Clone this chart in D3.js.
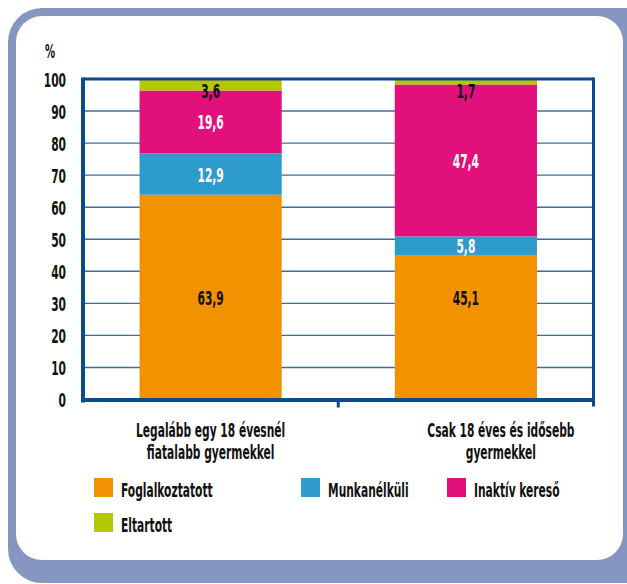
<!DOCTYPE html>
<html>
<head>
<meta charset="utf-8">
<script src="https://cdn.jsdelivr.net/npm/d3@7"></script>
<style>
  html, body { margin: 0; padding: 0; background: #ffffff; }
  svg { display: block; }
  text { font-family: "DejaVu Sans Condensed", "DejaVu Sans", sans-serif; font-weight: bold; fill: #111; }
</style>
</head>
<body>
<svg id="chart" width="627" height="584"></svg>
<script>
// Household groups (two lines per category label)
const categoryLines = [
  ["Legalább egy 18 évesnél", "fiatalabb gyermekkel"],
  ["Csak 18 éves és idősebb", "gyermekkel"]
];
const categories = categoryLines.map(l => l.join(" "));

// Series, in stacking order (bottom to top), percentages
const seriesNames = ["Foglalkoztatott", "Munkanélküli", "Inaktív kereső", "Eltartott"];
const foglalkoztatott = [63.9, 45.1];
const munkanelkuli   = [12.9, 5.8];
const inaktivKereso  = [19.6, 47.4];
const eltartott      = [3.6, 1.7];

const yTicks = [0, 10, 20, 30, 40, 50, 60, 70, 80, 90, 100];

// ---- styling / layout ----
const colors = ["#f39200", "#2e9bcd", "#e2107b", "#b4c800"];
const labelColors = ["#111", "#fff", "#fff", "#111"];
const navy = "#0d4a8c";
const gridColor = "#3d6ca3";
const sx = 0.66;  // horizontal squeeze for the condensed lettering
const sy = 1.12;
const fs = 18;

const svg = d3.select("#chart");

// Frame: blue-grey backing with white rounded panel
svg.append("rect").attr("x", 8).attr("y", 8).attr("width", 660).attr("height", 575)
  .attr("rx", 34).attr("fill", "#8596c0");
svg.append("rect").attr("x", 16).attr("y", 16).attr("width", 607).attr("height", 544)
  .attr("rx", 26).attr("fill", "#ffffff");

const plot = { left: 83, right: 593.5, top: 79, bottom: 399.5 };

const x = d3.scaleBand()
  .domain(categories)
  .range([plot.left, plot.right])
  .paddingInner(0.443)
  .paddingOuter(0.2215);

const y = d3.scaleLinear().domain([0, 100]).range([plot.bottom, plot.top]);

const fmt = d3.formatLocale({ decimal: ",", thousands: " ", grouping: [3], currency: ["", ""] }).format(".1f");

function place(sel, px, py) {
  return sel.attr("transform", `translate(${px},${py}) scale(${sx},${sy})`);
}

// Gridlines
svg.append("g").selectAll("line")
  .data(yTicks.filter(t => t > 0 && t < 100))
  .join("line")
  .attr("x1", plot.left).attr("x2", plot.right)
  .attr("y1", d => y(d)).attr("y2", d => y(d))
  .attr("stroke", gridColor).attr("stroke-width", 1.4);

// Stacked bars
const table = categories.map((c, i) => ({
  category: c,
  [seriesNames[0]]: foglalkoztatott[i],
  [seriesNames[1]]: munkanelkuli[i],
  [seriesNames[2]]: inaktivKereso[i],
  [seriesNames[3]]: eltartott[i]
}));
const stacked = d3.stack().keys(seriesNames)(table);

const layers = svg.append("g").selectAll("g")
  .data(stacked)
  .join("g")
  .attr("fill", (d, i) => colors[i]);

layers.selectAll("rect")
  .data(d => d)
  .join("rect")
  .attr("x", d => x(d.data.category))
  .attr("width", x.bandwidth())
  .attr("y", d => y(d[1]))
  .attr("height", d => y(d[0]) - y(d[1]));

// Plot frame: heavy left and bottom axes, lighter top and right edges
const frame = svg.append("g").attr("stroke", navy).attr("fill", "none");
frame.append("line").attr("x1", plot.left).attr("x2", plot.right).attr("y1", plot.top).attr("y2", plot.top).attr("stroke-width", 3);
frame.append("line").attr("x1", plot.right).attr("x2", plot.right).attr("y1", plot.top - 1.5).attr("y2", plot.bottom + 7).attr("stroke-width", 3);
frame.append("line").attr("x1", plot.left).attr("x2", plot.left).attr("y1", plot.top - 1.5).attr("y2", plot.bottom + 3).attr("stroke-width", 4);
frame.append("line").attr("x1", plot.left - 2).attr("x2", plot.right + 1.5).attr("y1", plot.bottom + 0.5).attr("y2", plot.bottom + 0.5).attr("stroke-width", 4);
// category separator tick
frame.append("line")
  .attr("x1", x(categories[1]) - x.step() * x.paddingInner() / 2)
  .attr("x2", x(categories[1]) - x.step() * x.paddingInner() / 2)
  .attr("y1", plot.bottom).attr("y2", plot.bottom + 8).attr("stroke-width", 3);

// Y tick labels
svg.append("g").selectAll("text")
  .data(yTicks)
  .join("text")
  .attr("text-anchor", "end")
  .attr("font-size", fs)
  .text(d => d)
  .each(function (d) { place(d3.select(this), 66, y(d) + 7.5); });

place(svg.append("text").attr("text-anchor", "middle").attr("font-size", 17).text("%"), 50, 58);

// Value labels inside the segments
const baseLevel = d3.max(foglalkoztatott) / 2; // bottom-segment labels share one height
const labelData = [];
stacked.forEach((layer, si) => {
  layer.forEach(seg => {
    let cy = si === 0 ? y(baseLevel) : (y(seg[0]) + y(seg[1])) / 2;
    cy = Math.max(cy, plot.top + 11);
    labelData.push({ si, value: seg[1] - seg[0], cx: x(seg.data.category) + x.bandwidth() / 2, cy });
  });
});
svg.append("g").selectAll("text")
  .data(labelData)
  .join("text")
  .attr("text-anchor", "middle")
  .attr("font-size", fs)
  .style("fill", d => labelColors[d.si])
  .text(d => fmt(d.value))
  .each(function (d) { place(d3.select(this), d.cx, d.cy + 7.5); });

// Category labels
const categoryShift = [0, 35];
const catG = svg.append("g");
categoryLines.forEach((lines, i) => {
  const cx = x(categories[i]) + x.bandwidth() / 2 + categoryShift[i];
  lines.forEach((ln, j) => {
    place(catG.append("text").attr("text-anchor", "middle").attr("font-size", fs).text(ln), cx, 437 + j * 21.5);
  });
});

// Legend
const legendPos = [[94, 478], [301, 478], [447, 478], [94, 513]];
const legend = svg.append("g").selectAll("g")
  .data(seriesNames)
  .join("g")
  .attr("transform", (d, i) => `translate(${legendPos[i][0]},${legendPos[i][1]})`);
legend.append("rect").attr("width", 19).attr("height", 19).attr("fill", (d, i) => colors[i]);
legend.append("text").attr("font-size", fs).text(d => d)
  .each(function () { place(d3.select(this), 27, 19); });
</script>
</body>
</html>
